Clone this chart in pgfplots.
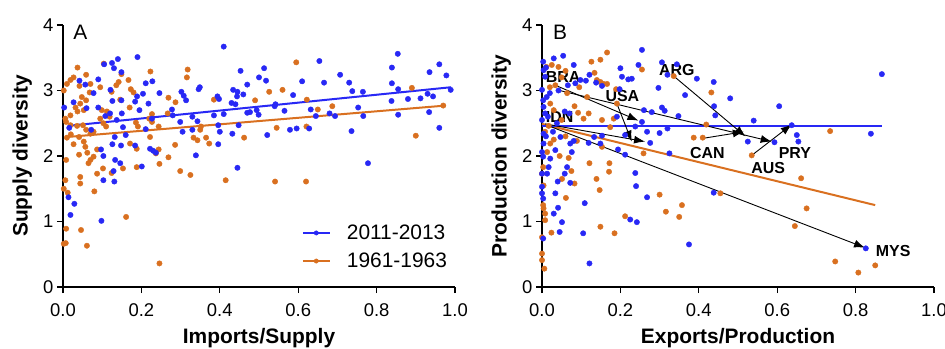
\documentclass[border=0pt]{standalone}
\usepackage{pgfplots}
\pgfplotsset{compat=1.18}
\usepackage{fontspec}
\setmainfont{Liberation Sans}
\usetikzlibrary{arrows.meta}
\definecolor{cblue}{RGB}{40,40,245}
\definecolor{corange}{RGB}{217,112,32}

\pgfplotsset{
 panel/.style={
  scale only axis, width=392bp, height=262bp,
  xmin=0,xmax=1,ymin=0,ymax=4,
  axis x line=bottom, axis y line=left,
  axis line style={-, line width=1.6bp},
  xtick={0,0.2,0.4,0.6,0.8,1}, ytick={0,1,2,3,4},
  xticklabel style={yshift=-7bp, /pgf/number format/.cd, fixed, fixed zerofill, precision=1},
  tick style={black, line width=1.3bp},
  major tick length=6bp,
  tick align=outside,
  ticklabel style={font=\fontsize{18.5}{20}\selectfont},
  /pgf/number format/assume math mode=true,
  xlabel style={at={(axis description cs:0.5,-0.195)}, anchor=center, font=\fontsize{21}{24}\selectfont\bfseries},
  ylabel style={at={(axis description cs:-0.104,0.5)}, anchor=center, font=\fontsize{21}{24}\selectfont\bfseries},
  clip=false,
 },
 bdots/.style={only marks, mark=*, mark size=2.7bp, color=cblue, mark options={draw=none, fill=cblue}},
 odots/.style={only marks, mark=*, mark size=2.7bp, color=corange, mark options={draw=none, fill=corange}},
 arr/.style={black, line width=0.9bp, no markers, -{Latex[length=11bp,width=8bp]}},
}
\tikzset{cty/.style={font=\fontsize{16}{18}\selectfont\bfseries, inner sep=0pt}}

\begin{document}
\begin{tikzpicture}
\path[use as bounding box] (0,0) rectangle (945bp,349bp);

% ---------------- Panel A ----------------
\begin{axis}[panel, at={(63bp,62bp)}, anchor=south west,
  xlabel={Imports/Supply}, ylabel={Supply diversity},
  legend style={draw=none, fill=none, at={(axis description cs:0.985,0.06)}, anchor=south east,
    font=\fontsize{21}{24}\selectfont, row sep=8bp, inner sep=0pt,
    /tikz/every odd column/.append style={column sep=14bp}},
  legend cell align=left,
  legend image code/.code={\draw[#1, line width=2.2bp] (0bp,0bp) -- (27bp,0bp); \fill[#1] (13.5bp,0bp) circle (2.2bp);},
]
\addplot[odots, forget plot] table {
0.002 3.00
0.01 3.10
0.019 3.16
0.027 3.20
0.037 3.35
0.059 3.24
0.042 3.07
0.07 3.10
0.095 3.05
0.104 3.41
0.068 2.97
0.048 2.90
0.059 2.85
0.032 2.74
0.044 2.80
0.006 2.57
0.019 2.62
0.037 2.68
0.053 2.70
0.008 2.52
0.019 2.47
0.036 2.46
0.051 2.47
0.059 2.40
0.07 2.34
0.078 2.37
0.095 2.57
0.103 2.50
0.11 2.45
0.099 2.70
0.112 2.68
0.119 2.60
0.142 3.13
0.167 3.16
0.149 3.25
0.173 3.02
0.223 3.29
0.318 3.32
0.316 3.20
0.595 3.43
0.89 3.04
0.56 3.01
0.526 2.98
0.49 2.85
0.622 2.86
0.65 2.71
0.687 2.76
0.97 2.77
0.269 2.89
0.287 2.82
0.385 2.86
0.17 2.74
0.146 2.86
0.227 2.64
0.267 2.65
0.186 2.51
0.191 2.45
0.22 2.57
0.227 2.52
0.244 2.45
0.352 2.45
0.35 2.40
0.545 2.43
0.621 2.45
0.9 2.31
0.333 2.28
0.365 2.28
0.343 2.24
0.373 2.19
0.462 2.28
0.286 2.17
0.222 2.29
0.171 2.19
0.188 2.11
0.244 2.10
0.237 2.04
0.269 1.98
0.246 1.88
0.188 1.83
0.153 1.81
0.124 1.74
0.299 1.77
0.325 1.71
0.415 1.63
0.541 1.61
0.62 1.61
0.087 1.73
0.102 1.81
0.044 1.68
0.044 1.58
0.078 1.99
0.062 2.05
0.07 1.94
0.041 2.02
0.065 1.89
0.087 2.10
0.027 2.18
0.01 2.28
0.02 2.33
0.041 2.29
0.053 2.22
0.057 2.14
0.008 1.94
0.006 1.63
0.002 1.50
0.012 1.44
0.08 1.46
0.161 1.07
0.046 0.87
0.008 0.89
0.007 0.67
0.002 0.66
0.061 0.63
0.246 0.36
0.136 3.08
0.124 2.98
0.18 2.97
};
\addplot[bdots, forget plot] table {
0.41 3.67
0.19 3.51
0.14 3.48
0.125 3.42
0.13 3.34
0.105 3.40
0.854 3.56
0.654 3.45
0.513 3.34
0.839 3.35
0.96 3.40
0.453 3.30
0.935 3.28
0.978 3.23
0.707 3.24
0.149 3.28
0.09 3.17
0.042 3.15
0.228 3.14
0.211 3.11
0.057 3.09
0.61 3.14
0.666 3.12
0.73 3.12
0.839 3.11
0.989 3.01
0.5 3.20
0.47 3.09
0.518 3.15
0.349 3.05
0.346 3.02
0.246 2.96
0.204 2.95
0.189 2.91
0.121 3.01
0.078 2.96
0.302 2.98
0.308 2.92
0.434 3.01
0.445 2.98
0.444 2.91
0.46 2.94
0.394 2.91
0.398 2.87
0.314 2.85
0.587 2.93
0.738 2.99
0.765 2.98
0.838 2.84
0.855 3.02
0.88 2.87
0.912 2.88
0.93 2.95
0.944 2.91
0.126 2.84
0.149 2.85
0.027 2.82
0.06 2.73
0.184 2.83
0.195 2.70
0.218 2.80
0.15 2.65
0.12 2.65
0.09 2.74
0.003 2.74
0.278 2.71
0.28 2.62
0.33 2.60
0.385 2.62
0.41 2.64
0.43 2.81
0.44 2.79
0.47 2.66
0.477 2.67
0.494 2.70
0.499 2.63
0.54 2.76
0.542 2.79
0.565 2.69
0.632 2.71
0.645 2.61
0.68 2.65
0.694 2.61
0.753 2.74
0.766 2.61
0.855 2.63
0.934 2.67
0.108 2.61
0.137 2.55
0.227 2.57
0.299 2.52
0.343 2.53
0.016 2.43
0.072 2.40
0.153 2.44
0.211 2.41
0.33 2.40
0.305 2.37
0.4 2.37
0.448 2.47
0.396 2.47
0.432 2.34
0.521 2.32
0.579 2.40
0.596 2.42
0.628 2.42
0.736 2.38
0.96 2.43
0.132 2.29
0.16 2.32
0.126 2.18
0.148 2.16
0.184 2.16
0.222 2.11
0.23 2.08
0.237 2.05
0.097 2.10
0.396 2.18
0.103 2.00
0.133 1.94
0.146 1.89
0.201 1.84
0.339 2.01
0.445 1.82
0.778 1.89
0.129 1.77
0.103 1.63
0.131 1.61
0.014 1.37
0.029 1.27
0.019 1.10
0.098 1.01
};
\addplot[corange, line width=2bp, no markers, forget plot] coordinates {(0.01,2.29) (0.976,2.77)};
\addplot[cblue, line width=2bp, no markers, forget plot] coordinates {(0.013,2.46) (0.99,3.05)};
\addlegendimage{cblue}
\addlegendentry{2011-2013}
\addlegendimage{corange}
\addlegendentry{1961-1963}
\node[anchor=north west, inner sep=0pt, font=\fontsize{21}{24}\selectfont] at (axis description cs:0.026,1) {A};
\end{axis}

% ---------------- Panel B ----------------
\begin{axis}[panel, at={(542bp,62bp)}, anchor=south west,
  xlabel={Exports/Production}, ylabel={Production diversity}]
\addplot[odots] table {
0.166 3.58
0.149 3.47
0.126 3.44
0.134 3.27
0.14 3.16
0.149 3.13
0.157 3.10
0.166 3.10
0.189 3.02
0.115 2.90
0.119 2.65
0.092 2.66
0.106 2.57
0.153 2.55
0.183 2.57
0.255 3.32
0.432 2.97
0.419 2.48
0.387 2.28
0.41 2.28
0.336 3.22
0.535 2.01
0.735 2.38
0.661 1.66
0.675 1.20
0.645 0.93
0.748 0.39
0.807 0.22
0.85 0.33
0.455 1.43
0.357 1.25
0.316 1.15
0.35 1.07
0.3 1.41
0.259 2.04
0.212 1.08
0.185 0.82
0.149 0.92
0.147 1.48
0.139 1.65
0.171 1.76
0.172 1.89
0.121 1.89
0.083 1.58
0.061 1.36
0.051 1.65
0.075 1.77
0.068 1.97
0.089 2.23
0.024 0.83
0.008 1.12
0.004 1.20
0.003 1.25
0.0 0.51
0.0 0.41
0.006 0.28
0.0 0.76
0.008 1.02
0.004 1.55
0.0 1.73
0.003 1.83
0.013 2.06
0.021 2.19
0.008 2.37
0.03 2.70
0.021 2.80
0.011 3.36
0.025 3.39
0.042 3.36
0.064 2.96
0.083 2.76
0.153 2.14
0.174 2.44
0.034 3.08
0.191 2.80
0.017 2.46
0.05 3.20
0.06 3.30
0.095 3.05
0.02 3.05
0.05 2.55
0.03 2.25
0.045 2.0
0.06 2.3
};
\addplot[bdots] table {
0.867 3.25
0.839 2.34
0.65 2.32
0.654 2.22
0.605 2.76
0.54 2.54
0.525 2.22
0.593 2.21
0.48 2.88
0.438 3.13
0.439 2.76
0.442 2.62
0.395 3.18
0.344 3.40
0.306 3.43
0.32 3.24
0.365 2.93
0.348 2.61
0.297 3.04
0.306 2.74
0.313 2.69
0.3 2.35
0.32 2.42
0.325 2.04
0.438 1.44
0.375 0.65
0.255 3.62
0.246 3.39
0.229 3.18
0.22 3.17
0.2 3.34
0.204 3.21
0.198 3.02
0.26 2.70
0.28 2.67
0.255 2.52
0.238 2.45
0.268 2.37
0.276 2.20
0.191 2.60
0.212 2.32
0.194 2.10
0.212 2.02
0.238 1.74
0.24 1.54
0.268 1.37
0.225 1.03
0.242 0.99
0.109 1.28
0.105 0.82
0.121 0.36
0.051 0.99
0.045 0.84
0.041 1.21
0.03 1.12
0.034 1.43
0.003 3.44
0.004 3.31
0.008 3.21
0.0 3.01
0.003 2.85
0.004 2.75
0.008 2.65
0.0 2.55
0.004 2.34
0.004 2.19
0.0 2.06
0.003 1.99
0.0 1.73
0.0 1.53
0.0 1.43
0.003 1.35
0.003 0.74
0.03 3.49
0.054 3.53
0.081 3.39
0.085 3.11
0.098 3.16
0.112 3.15
0.02 2.96
0.042 3.00
0.058 2.68
0.07 2.65
0.038 2.50
0.028 2.37
0.047 2.29
0.072 2.19
0.076 2.06
0.034 2.09
0.021 1.96
0.017 1.83
0.013 1.73
0.064 1.83
0.072 1.59
0.04 1.61
0.058 1.73
0.133 2.29
0.149 2.19
0.119 2.20
0.081 2.23
0.153 3.07
0.138 3.12
0.121 3.24
0.066 3.08
0.153 2.31
0.637 2.47
0.826 0.59
0.01 3.35
0.012 2.90
0.015 2.60
0.01 2.30
};
\addplot[corange, line width=2bp, no markers] coordinates {(0,2.49) (0.85,1.25)};
\addplot[cblue, line width=2bp, no markers] coordinates {(0,2.456) (0.867,2.456)};
% arrows 1961-1963 -> 2011-2013
\addplot[arr] coordinates {(0.034,3.08) (0.246,2.54)};
\addplot[arr] coordinates {(0.045,3.00) (0.586,2.22)};
\addplot[arr] coordinates {(0.191,2.80) (0.229,2.22)};
\addplot[arr] coordinates {(0.008,2.49) (0.263,2.22)};
\addplot[arr] coordinates {(0.017,2.46) (0.824,0.60)};
\addplot[arr] coordinates {(0.336,3.22) (0.519,2.30)};
\addplot[arr] coordinates {(0.411,2.27) (0.515,2.37)};
\addplot[arr] coordinates {(0.535,2.01) (0.637,2.48)};
\node[cty] at (axis cs:0.054,3.21) {BRA};
\node[cty] at (axis cs:0.205,2.91) {USA};
\node[cty] at (axis cs:0.344,3.32) {ARG};
\node[cty] at (axis cs:0.045,2.60) {IDN};
\node[cty] at (axis cs:0.422,2.05) {CAN};
\node[cty] at (axis cs:0.577,1.82) {AUS};
\node[cty] at (axis cs:0.645,2.05) {PRY};
\node[cty] at (axis cs:0.896,0.55) {MYS};
\node[anchor=north west, inner sep=0pt, font=\fontsize{21}{24}\selectfont] at (axis description cs:0.028,1) {B};
\end{axis}
\end{tikzpicture}
\end{document}
